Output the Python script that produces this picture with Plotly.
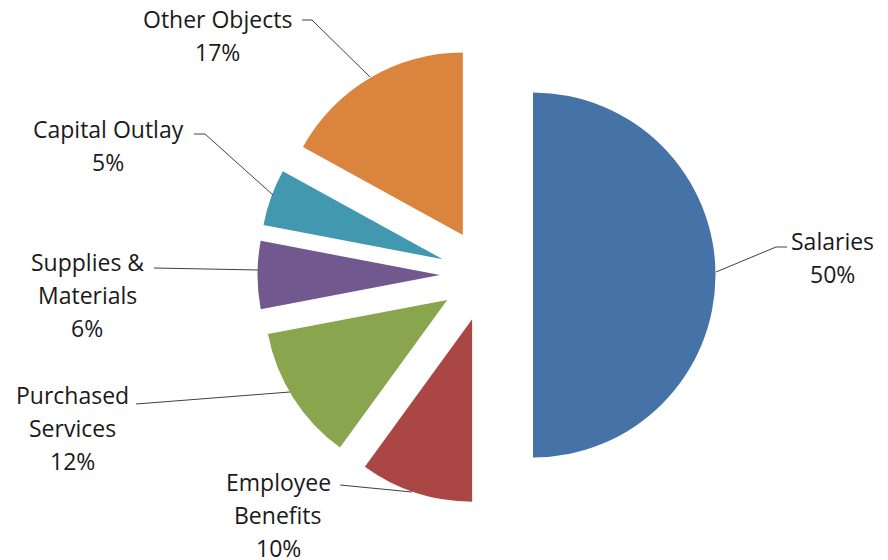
import plotly.graph_objects as go

categories = ["Salaries", "Employee Benefits", "Purchased Services",
              "Supplies & Materials", "Capital Outlay", "Other Objects"]
values = [50, 10, 12, 6, 5, 17]
label_lines = [["Salaries", "50%"], ["Employee", "Benefits", "10%"],
               ["Purchased", "Services", "12%"], ["Supplies &", "Materials", "6%"],
               ["Capital Outlay", "5%"], ["Other Objects", "17%"]]
colors = ["#4572A7", "#AA4643", "#89A54E", "#71588F", "#4198AF", "#DB843D"]

W, H = 888, 560
OFF = 8  # page body margin
# label layout (pixel positions in the page): first-line center, leader-line polyline
label_pos = [(832, 241), (278, 482), (72, 395), (87, 262), (108, 129), (217, 19)]
leaders = [
    [(787, 247), (776, 247), (716, 272)],
    [(340, 485), (412, 492)],
    [(136, 404), (290, 392)],
    [(154, 268), (258, 270)],
    [(194, 134), (205, 134), (273, 195)],
    [(302, 20), (312, 20), (370, 77)],
]
LINE_H = 33

def px(x):
    return (x - OFF) / W

def py(y):
    return 1 - (y - OFF) / H

cxp, cyp, half = 486.5 - OFF, 275 - OFF, 229
fig = go.Figure(go.Pie(
    labels=categories, values=values, sort=False, direction="clockwise",
    rotation=0, pull=[0.255] * len(values),
    marker=dict(colors=colors, line=dict(width=0)),
    textinfo="none", hoverinfo="label+percent", showlegend=False,
    domain=dict(x=[(cxp - half) / W, (cxp + half) / W],
                y=[1 - (cyp + half) / H, 1 - (cyp - half) / H]),
))

annotations = []
for (cx, cy), lines in zip(label_pos, label_lines):
    for i, t in enumerate(lines):
        annotations.append(dict(
            x=px(cx), y=py(cy + i * LINE_H), xref="paper", yref="paper",
            text=t, showarrow=False, xanchor="center", yanchor="middle",
            font=dict(family="Open Sans, sans-serif", size=23, color="#1a1a1a"),
        ))

shapes = []
for pts in leaders:
    path = "M " + " L ".join(f"{px(x)},{py(y)}" for x, y in pts)
    shapes.append(dict(type="path", xref="paper", yref="paper", path=path,
                       line=dict(color="#404040", width=1)))

fig.update_layout(
    width=W, height=H, margin=dict(l=0, r=0, t=0, b=0),
    paper_bgcolor="white", plot_bgcolor="white",
    annotations=annotations, shapes=shapes,
)
fig.write_html("out.html")
